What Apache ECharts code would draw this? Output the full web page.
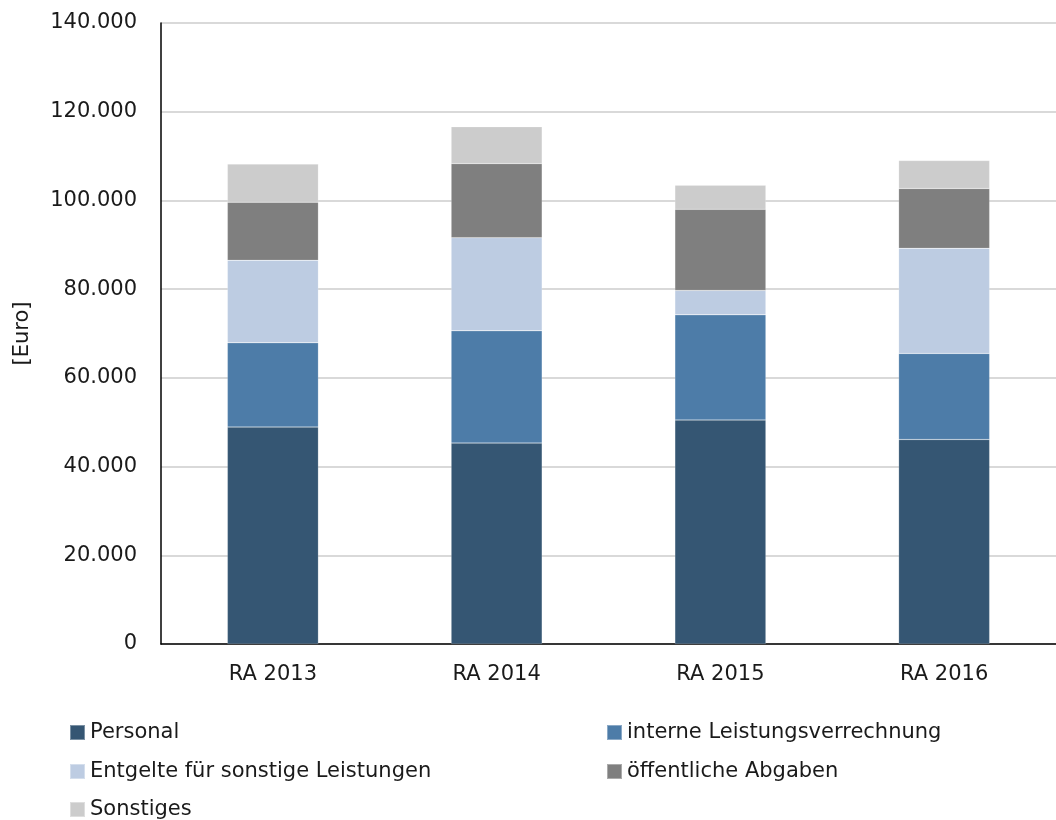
<!DOCTYPE html>
<html><head><meta charset="utf-8">
<script src="https://cdn.jsdelivr.net/npm/echarts@6/dist/echarts.min.js"></script>
<style>html,body{margin:0;padding:0;background:#fff}#c{width:1056px;height:820px}</style>
</head><body><div id="c"></div>
<script>
const categories = ['RA 2013', 'RA 2014', 'RA 2015', 'RA 2016'];
const seriesNames = ['Personal', 'interne Leistungsverrechnung', 'Entgelte für sonstige Leistungen', 'öffentliche Abgaben', 'Sonstiges'];
const personal = [48900, 45300, 50500, 46100];
const interne = [19000, 25300, 23700, 19400];
const entgelte = [18600, 21000, 5500, 23700];
const abgaben = [13100, 16700, 18300, 13500];
const sonstiges = [8600, 8300, 5400, 6300];
const colors = ['#355673', '#4d7ca8', '#bdcce2', '#7f7f7f', '#cccccc'];
const values = [personal, interne, entgelte, abgaben, sonstiges];

const FONT = '"DejaVu Sans", Verdana, sans-serif';
const FS = 21;
const legendPos = [[64, 717], [601, 717], [64, 756], [601, 756], [64, 794]];

const chart = echarts.init(document.getElementById('c'), null, {renderer: 'canvas'});
chart.setOption({
  animation: false,
  textStyle: {fontFamily: FONT},
  grid: {left: 161, top: 23, width: 900, height: 621},
  legend: seriesNames.map((n, i) => ({
    data: [n], left: legendPos[i][0], top: legendPos[i][1],
    itemWidth: 15, itemHeight: 15, itemGap: 4,
    icon: 'rect',
    textStyle: {fontSize: FS, color: '#1a1a1a', fontFamily: FONT}
  })),
  xAxis: {
    type: 'category', data: categories,
    axisLine: {lineStyle: {color: '#000', width: 1.5}},
    axisTick: {show: false},
    axisLabel: {fontSize: FS, color: '#1a1a1a', margin: 20, fontFamily: FONT}
  },
  yAxis: {
    type: 'value', min: 0, max: 140000, interval: 20000,
    name: '[Euro]', nameLocation: 'middle', nameRotate: 90, nameGap: 128,
    nameTextStyle: {fontSize: FS, color: '#1a1a1a', fontFamily: FONT},
    axisLine: {show: true, lineStyle: {color: '#000', width: 1.5}},
    axisTick: {show: false},
    splitLine: {lineStyle: {color: '#d9d9d9', width: 2}},
    axisLabel: {
      fontSize: FS, color: '#1a1a1a', margin: 24, fontFamily: FONT,
      formatter: v => v === 0 ? '0' : String(v).replace(/\B(?=(\d{3})+(?!\d))/g, '.')
    }
  },
  series: seriesNames.map((n, i) => ({
    name: n, type: 'bar', stack: 'total', data: values[i], barWidth: 91,
    itemStyle: {color: colors[i], borderColor: 'rgba(255,255,255,0.35)', borderWidth: 0.5}
  }))
});
</script></body></html>
